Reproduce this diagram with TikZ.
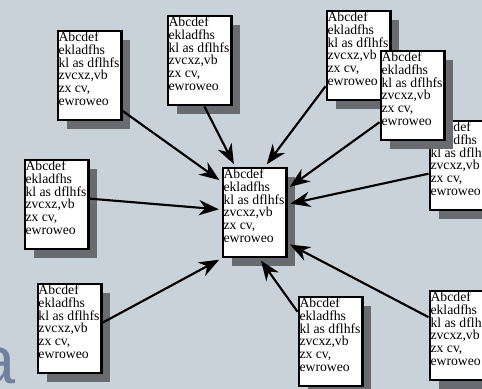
\documentclass[tikz,border=0pt]{standalone}
\usepackage{fontspec}
\setmainfont{Liberation Serif}
\setsansfont{Liberation Sans}
\usetikzlibrary{arrows.meta,shadows}

\definecolor{slidebg}{RGB}{201,209,217}
\definecolor{shadowgray}{RGB}{104,108,112}
\definecolor{slideblue}{RGB}{112,128,158}

\newcommand{\Memo}{\parbox[t][66.75pt][t]{46.6pt}{\vspace*{0.6pt}\fontsize{10.3}{9.6}\selectfont\raggedright
  Abcdef\\ ekladfhs\\ kl as dflhfs\\ zvcxz,vb\\ zx cv,\\ ewroweo}}

\begin{document}
\begin{tikzpicture}[ x = 0.75pt, y = -0.75pt,
    MemoStyle/.style  = {draw, line width = 2.2pt, fill = white, anchor = north west,
                         inner sep = 0pt, inner xsep = 0.4pt,
                         drop shadow = {shadow xshift = 6.75pt, shadow yshift = -6.75pt,
                                        fill = shadowgray, opacity = 1}},
    ArrowStyle/.style = {-{Stealth[length = 15pt, width = 11.5pt]}, line width = 1.6pt,
                         shorten > = 2pt} ]
    \useasboundingbox (0,0) rectangle (482,389);
    \clip (0,0) rectangle (482,389);
    \fill[slidebg] (0,0) rectangle (482,389);

    \node[text = slideblue, font = \sffamily\fontsize{50}{50}\selectfont,
          anchor = base west, inner sep = 0pt] (Mark) at (-22,383) {a};

    % outer memos
    \node[MemoStyle] (N1) at ( 56.5, 29.5) {\Memo};
    \node[MemoStyle] (N2) at (166.5, 14.5) {\Memo};
    \node[MemoStyle] (N3) at (325.5,  9.5) {\Memo};
    \node[MemoStyle] (N5) at (428.5,119.5) {\Memo};
    \node[MemoStyle] (N4) at (379.5, 49.5) {\Memo};
    \node[MemoStyle] (N6) at ( 23.5,158.5) {\Memo};
    \node[MemoStyle] (N7) at ( 36.5,282.5) {\Memo};
    \node[MemoStyle] (N8) at (297.5,295.5) {\Memo};
    \node[MemoStyle] (N9) at (428.5,289.5) {\Memo};

    % centre memo
    \node[MemoStyle] (Hub) at (221.5,166.5) {\Memo};

    \draw[ArrowStyle] (N1.-47) -- (Hub.137);
    \draw[ArrowStyle] (N2.-84) -- (Hub.113);
    \draw[ArrowStyle] (N3.223) -- (Hub.77);
    \draw[ArrowStyle] (N4.219) -- (Hub.36);
    \draw[ArrowStyle] (N5.194) -- (Hub.14);
    \draw[ArrowStyle] (N6.10)  -- (Hub.175);
    \draw[ArrowStyle] (N7.10)  -- (Hub.south west);
    \draw[ArrowStyle] (N8.138) -- (Hub.-84);
    \draw[ArrowStyle] (N9.151) -- (Hub.-43);
\end{tikzpicture}
\end{document}
